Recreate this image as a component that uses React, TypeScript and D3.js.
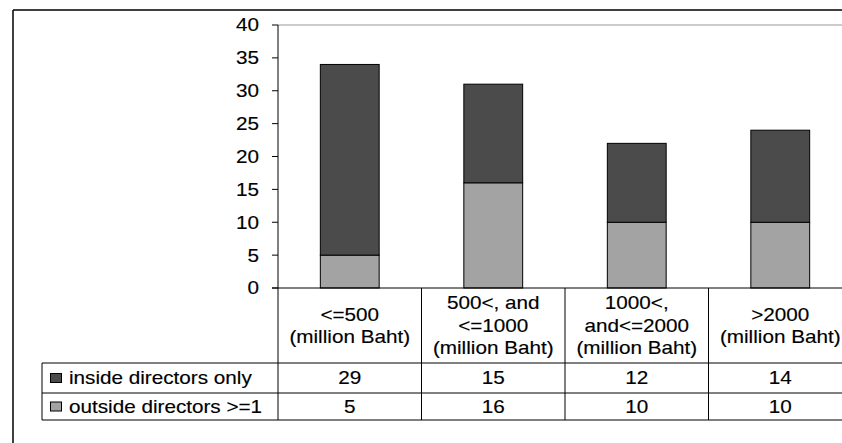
import React from "react";
import * as d3 from "d3";

const categories: string[][] = [
  ["<=500", "(million Baht)"],
  ["500<, and", "<=1000", "(million Baht)"],
  ["1000<,", "and<=2000", "(million Baht)"],
  [">2000", "(million Baht)"],
];
const seriesNames = ["inside directors only", "outside directors >=1"];
const insideOnly = [29, 15, 12, 14];
const outsideAtLeastOne = [5, 16, 10, 10];
const yTicks = [0, 5, 10, 15, 20, 25, 30, 35, 40];

const W = 842;
const H = 443;
const DARK = "#4b4b4b";
const LIGHT = "#a3a3a3";
const FONT = "'Liberation Sans', Arial, sans-serif";
const FS = 18;
const SX = 1.15;

function T({ x, y, anchor, children }: { x: number; y: number; anchor: string; children: React.ReactNode }) {
  return (
    <g transform={`translate(${x},${y}) scale(${SX},1)`}>
      <text x={0} y={0} textAnchor={anchor as any} dominantBaseline="central" fontFamily={FONT} fontSize={FS} fill="#000" stroke="#000" strokeWidth={0.15}>
        {children}
      </text>
    </g>
  );
}

export default function App() {
  const idx = categories.map((_, i) => String(i));
  const x = d3.scaleBand<string>().domain(idx).range([278, 852]).paddingInner(0).paddingOuter(0);
  const y = d3.scaleLinear().domain([0, 40]).range([288, 25]);
  const barW = x.bandwidth() * 0.41;

  const stack = d3.stack<number>().keys(["outside", "inside"]).value((i, k) => (k === "outside" ? outsideAtLeastOne[i] : insideOnly[i]));
  const layers = stack(categories.map((_, i) => i));
  const colors: Record<string, string> = { outside: LIGHT, inside: DARK };

  const headerTop = 288;
  const headerBottom = 363;
  const row1Bottom = 393;
  const row2Bottom = 420;
  const tableLeft = 42;
  const lineH = 22.5;

  return (
    <svg width={W} height={H} style={{ position: "absolute", left: 0, top: 0, background: "#fff" }}>
      <rect x={0} y={0} width={W} height={H} fill="#fff" />
      {/* outer border */}
      <line x1={13} y1={10} x2={W} y2={10} stroke="#000" strokeWidth={1.5} />
      <line x1={13} y1={10} x2={13} y2={H} stroke="#000" strokeWidth={1.5} />

      {/* top gridline */}
      <line x1={278} y1={y(40)} x2={W} y2={y(40)} stroke="#999" strokeWidth={1} />

      {/* bars */}
      {layers.map((layer) =>
        layer.map((d, i) => {
          const cx = (x(String(i)) as number) + x.bandwidth() / 2;
          return (
            <rect
              key={layer.key + i}
              x={cx - barW / 2}
              y={y(d[1])}
              width={barW}
              height={y(d[0]) - y(d[1])}
              fill={colors[layer.key]}
              stroke="#000"
              strokeWidth={1}
            />
          );
        })
      )}

      {/* y axis */}
      <line x1={278} y1={y(40)} x2={278} y2={row2Bottom} stroke="#000" strokeWidth={1} />
      {yTicks.map((t) => (
        <g key={t}>
          <line x1={272} x2={278} y1={y(t)} y2={y(t)} stroke="#000" strokeWidth={1} />
          <T x={259} y={y(t)} anchor="end">
            {t}
          </T>
        </g>
      ))}

      {/* table horizontal lines */}
      <line x1={272} y1={headerTop} x2={W} y2={headerTop} stroke="#000" strokeWidth={1} />
      <line x1={tableLeft} y1={headerBottom} x2={W} y2={headerBottom} stroke="#000" strokeWidth={1} />
      <line x1={tableLeft} y1={row1Bottom} x2={W} y2={row1Bottom} stroke="#000" strokeWidth={1} />
      <line x1={tableLeft} y1={row2Bottom} x2={W} y2={row2Bottom} stroke="#000" strokeWidth={1} />
      <line x1={tableLeft} y1={headerBottom} x2={tableLeft} y2={row2Bottom} stroke="#000" strokeWidth={1} />
      {idx.map((k) => {
        const bx = (x(k) as number) + x.bandwidth();
        return <line key={"v" + k} x1={bx} y1={headerTop} x2={bx} y2={row2Bottom} stroke="#000" strokeWidth={1} />;
      })}

      {/* category labels */}
      {categories.map((lines, i) => {
        const cx = (x(String(i)) as number) + x.bandwidth() / 2;
        const mid = (headerTop + headerBottom) / 2;
        const start = mid - ((lines.length - 1) * lineH) / 2;
        return lines.map((l, j) => (
          <T key={i + "-" + j} x={cx} y={start + j * lineH} anchor="middle">
            {l}
          </T>
        ));
      })}

      {/* legend rows */}
      {[
        { name: seriesNames[0], color: DARK, vals: insideOnly, top: headerBottom, bottom: row1Bottom },
        { name: seriesNames[1], color: LIGHT, vals: outsideAtLeastOne, top: row1Bottom, bottom: row2Bottom },
      ].map((r) => {
        const cy = (r.top + r.bottom) / 2;
        return (
          <g key={r.name}>
            <rect x={50.5} y={cy - 4.5} width={11} height={9} fill={r.color} stroke="#000" strokeWidth={1} />
            <T x={69} y={cy} anchor="start">
              {r.name}
            </T>
            {r.vals.map((v, i) => (
              <T key={i} x={(x(String(i)) as number) + x.bandwidth() / 2} y={cy} anchor="middle">
                {v}
              </T>
            ))}
          </g>
        );
      })}
    </svg>
  );
}
